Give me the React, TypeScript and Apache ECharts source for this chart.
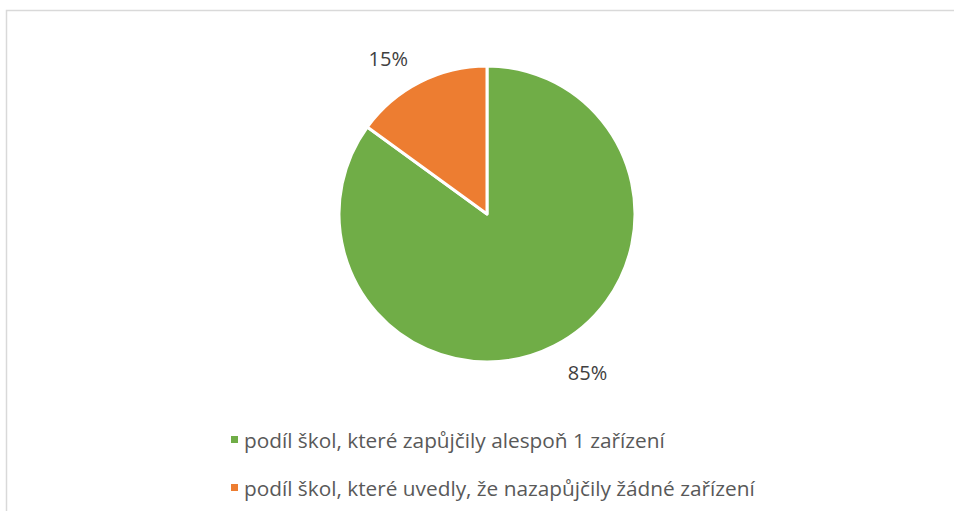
import React, { useEffect, useRef } from "react";
import * as echarts from "echarts";

const categories = [
  "podíl škol, které zapůjčily alespoň 1 zařízení",
  "podíl škol, které uvedly, že nazapůjčily žádné zařízení",
];
const values = [85, 15];
const colors = ["#70ad47", "#ed7d31"];
const labelLengths = [30, 26];

export default function App() {
  const ref = useRef<HTMLDivElement>(null);
  useEffect(() => {
    if (!ref.current) return;
    const chart = echarts.init(ref.current, null, { renderer: "svg" });
    const font = "'Open Sans', 'Noto Sans', sans-serif";
    chart.setOption({
      animation: false,
      backgroundColor: "#ffffff",
      graphic: [
        {
          type: "rect",
          shape: { x: 6.5, y: 10.5, width: 1000, height: 600 },
          style: { fill: "none", stroke: "#d9d9d9", lineWidth: 1.5 },
          silent: true,
        },
      ],
      legend: {
        orient: "vertical",
        left: 224,
        top: 424,
        itemWidth: 9,
        itemHeight: 9,
        itemGap: 27,
        icon: "rect",
        textStyle: { color: "#595959", fontSize: 20.8, fontFamily: font },
        data: categories,
      },
      series: [
        {
          type: "pie",
          center: [487, 214],
          radius: 148,
          startAngle: 90,
          clockwise: true,
          avoidLabelOverlap: false,
          itemStyle: { borderColor: "#ffffff", borderWidth: 3 },
          label: {
            show: true,
            position: "outside",
            formatter: "{c}%",
            color: "#404040",
            fontSize: 20,
            fontFamily: font,
            distanceToLabelLine: 0,
          },
          labelLine: { show: false, length2: 0 },
          data: categories.map((name, i) => ({
            name,
            value: values[i],
            itemStyle: { color: colors[i] },
            labelLine: { show: false, length: labelLengths[i], length2: 0 },
          })),
        },
      ],
    });
    return () => chart.dispose();
  }, []);
  return (
    <div
      ref={ref}
      style={{ position: "fixed", left: 0, top: 0, width: 954, height: 511 }}
    />
  );
}
